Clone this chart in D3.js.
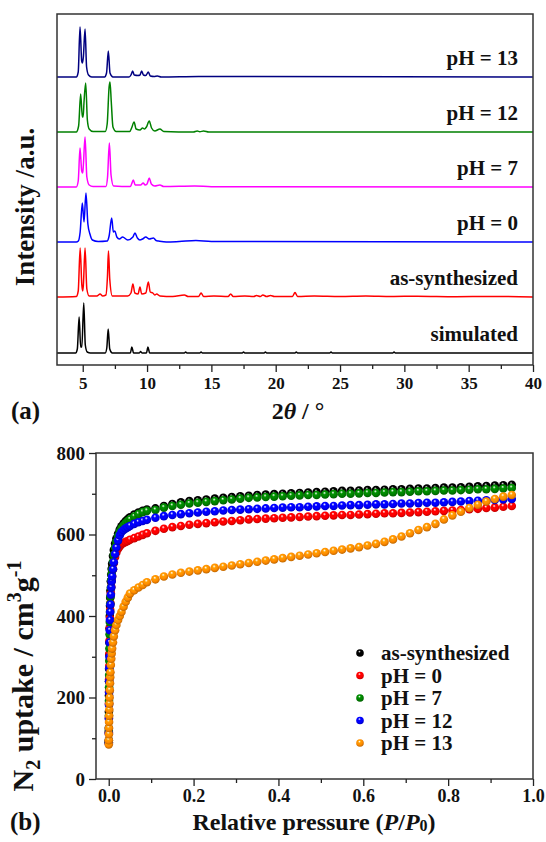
<!DOCTYPE html>
<html>
<head>
    <title>XRD and N2 isotherms</title>
    <script src="https://d3js.org/d3.v7.min.js"></script>
    <style>
        body { margin: 0; background: #fff; }
        text { font-family: "Liberation Serif", "Times New Roman", serif; font-weight: bold; }
    </style>
</head>
<body>
<script>
    var W = 546, H = 842;

    // ---- (a) PXRD patterns, [2theta, intensity a.u.] ----
    var simulatedXRD = [[3,0],[4.45,0],[4.58,4],[4.72,36],[4.84,6],[4.93,6],[5.08,50],[5.2,8],[5.35,1],[5.6,0],[6.75,0],[6.87,5],[6.98,24],[7.1,4],[7.3,0],
        [8.7,0],[8.82,6],[8.95,0],[9.4,0],[9.5,1.5],[9.6,0],[9.95,0],[10.07,6],[10.2,0],[12.9,0],[13.0,1],[13.1,0],[14.1,0],[14.2,1],[14.3,0],
        [17.4,0],[17.5,1],[17.6,0],[19.1,0],[19.2,1],[19.3,0],[21.5,0],[21.6,1],[21.7,0],[24.2,0],[24.3,1],[24.4,0],[29.1,0],[29.2,1],[29.3,0],[40,0]];
    var asSynXRD = [[3,0],[4.5,0.5],[4.65,6],[4.8,49],[4.93,12],[5.0,6],[5.05,12],[5.18,49],[5.32,8],[5.5,1],[6.1,1],[6.35,3],[6.55,1],[6.8,2],[6.92,20],[7.0,46],[7.1,18],[7.3,1],
        [8.5,1],[8.75,4],[8.9,13],[9.05,4],[9.3,3],[9.45,10],[9.58,3],[9.9,4],[10.1,15],[10.25,5],[10.45,4],[10.6,2],[10.75,3],[11.0,1],[12.0,0.5],[12.9,2],[13.2,0.5],
        [14.0,0.5],[14.2,4],[14.4,0.5],[15.2,1],[16.3,0.5],[16.5,3],[16.7,0.5],[17.6,1],[18.3,0.5],[18.5,1.5],[18.8,0.5],[19.0,2],[19.3,0.5],[19.6,1.5],[19.9,0.5],
        [21.3,0.5],[21.5,4.5],[21.7,0.5],[23,1],[25,0.5],[27,1],[29,0.5],[31,0.8],[34,0.3],[37,0.6],[40,0]];
    var pH0XRD = [[3,0],[4.5,0],[4.66,1],[4.8,10],[4.97,39],[5.1,20],[5.25,49],[5.4,18],[5.56,8],[5.75,2],[6.2,0.5],[6.9,1],[7.05,6],[7.25,24],[7.38,10],[7.5,11],[7.65,5],
        [7.85,3],[8.1,5],[8.5,2],[8.9,5],[9.06,9],[9.25,4],[9.45,2],[9.65,3],[9.9,5],[10.17,3],[10.5,4],[10.7,1.5],[10.9,1],[11.5,0],[12.5,0.5],[13.8,1.5],[15,0.5],[40,0]];
    var pH7XRD = [[3,0],[4.5,0],[4.65,6],[4.79,39],[4.92,16],[5.0,14],[5.05,22],[5.18,50],[5.32,10],[5.5,2],[5.8,0.5],[6.8,0.5],[6.93,10],[7.07,44],[7.2,12],[7.4,1],
        [8.7,0.5],[8.8,3],[8.93,7],[9.08,2],[9.5,2],[9.7,4],[9.85,2],[10.0,3],[10.17,9],[10.33,3],[10.6,1],[11.0,2],[11.3,0.5],[13.7,1],[15,0.3],[40,0]];
    var pH12XRD = [[3,0],[4.5,0],[4.68,6],[4.84,38],[4.97,15],[5.03,15],[5.1,30],[5.23,49],[5.36,12],[5.5,3],[5.8,0.5],[6.75,0.5],[6.9,8],[7.05,45],[7.12,50],[7.22,30],[7.35,5],[7.6,0.5],
        [8.65,0.5],[8.8,4],[8.99,10],[9.15,3],[9.45,2],[9.65,4],[9.8,3],[9.95,5],[10.17,11],[10.35,4],[10.6,1],[11.0,3],[11.3,0.5],[13.6,0],[13.9,1],[14.1,0.3],[14.4,1],[14.8,0],[40,0]];
    var pH13XRD = [[3,0],[4.5,0],[4.65,5],[4.79,50],[4.92,16],[4.98,14],[5.05,20],[5.18,48],[5.3,10],[5.45,2],[5.7,0],[6.7,0],[6.85,4],[6.99,26],[7.12,4],[7.35,0],
        [8.6,0],[8.75,2],[8.88,6],[9.0,2],[9.3,1.5],[9.45,2],[9.58,6],[9.72,2],[9.9,1.5],[10.1,5],[10.25,1],[10.55,0.5],[10.8,1],[11.1,0],[14,0.5],[40,0]];

    var xrdNames = ["simulated", "as-synthesized", "pH = 0", "pH = 7", "pH = 12", "pH = 13"];
    var xrdData = [simulatedXRD, asSynXRD, pH0XRD, pH7XRD, pH12XRD, pH13XRD];
    var xrdColors = ["#000000", "#ff0000", "#0000ff", "#ff00ff", "#008000", "#000080"];
    var xrdOffsets = [12, 68, 123, 178, 233, 288];
    var thetaTicks = [5, 10, 15, 20, 25, 30, 35, 40];
    var thetaMinor = [7.5, 12.5, 17.5, 22.5, 27.5, 32.5, 37.5];

    // ---- (b) N2 isotherms at 77 K ----
    var pressure = [0.0001, 0.0002, 0.0004, 0.0006, 0.0008, 0.001, 0.0013, 0.0016, 0.002, 0.0025, 0.003, 0.0035, 0.004, 0.005, 0.006, 0.007,
        0.008, 0.01, 0.012, 0.015, 0.018, 0.022, 0.026, 0.03, 0.035, 0.04, 0.045, 0.05, 0.06, 0.07, 0.08, 0.09,
        0.11, 0.13, 0.15, 0.17, 0.19, 0.21, 0.23, 0.25, 0.27, 0.29, 0.31, 0.33, 0.35, 0.37, 0.39, 0.41, 0.43, 0.45, 0.47, 0.49,
        0.51, 0.53, 0.55, 0.57, 0.59, 0.61, 0.63, 0.65, 0.67, 0.69, 0.71, 0.73, 0.75, 0.77, 0.79, 0.81, 0.83, 0.85, 0.87, 0.89, 0.91, 0.93, 0.95];
    var asSynUptake = [95, 125, 165, 205, 240, 270, 305, 335, 370, 400, 425, 445, 462, 485, 502, 516, 528, 547, 562, 578, 590, 602, 612, 620, 627, 633, 638, 642, 649, 654, 658, 661,
        664, 670, 675, 679, 682, 684, 686, 688, 690, 692, 694, 695, 697, 698, 699, 700, 701, 702, 703, 704, 705, 706, 707, 707, 708, 709, 709, 710, 711, 711,
        712, 713, 713, 714, 715, 715, 716, 717, 718, 719, 720, 721, 722];
    var pH0Uptake = [90, 115, 150, 185, 215, 245, 278, 308, 340, 370, 395, 415, 432, 455, 472, 487, 498, 515, 530, 545, 556, 565, 571, 576, 579, 582, 584, 587, 591, 595, 599, 603,
        609, 614, 618, 621, 624, 626, 628, 630, 632, 633, 635, 637, 638, 639, 640, 641, 642, 643, 644, 645, 646, 647, 648, 648, 649, 650, 651, 652, 652, 653,
        654, 655, 656, 657, 658, 659, 660, 662, 663, 665, 666, 668, 670];
    var pH7Uptake = [90, 118, 155, 192, 225, 255, 290, 320, 355, 385, 410, 430, 447, 470, 488, 502, 514, 533, 550, 568, 582, 596, 607, 615, 622, 628, 633, 637, 644, 650, 655, 658,
        660, 666, 670, 673, 676, 678, 680, 682, 684, 686, 688, 690, 691, 692, 693, 694, 695, 696, 697, 697, 698, 699, 700, 700, 701, 702, 702, 703, 704, 704,
        705, 706, 706, 707, 708, 708, 709, 710, 711, 711, 712, 713, 714];
    var pH12Uptake = [88, 112, 148, 182, 212, 240, 272, 300, 335, 365, 390, 410, 428, 452, 470, 485, 497, 515, 532, 552, 568, 585, 598, 606, 611, 615, 618, 621, 626, 630, 633, 636,
        641, 645, 648, 650, 652, 654, 656, 657, 659, 660, 661, 662, 663, 664, 665, 666, 667, 667, 668, 669, 670, 670, 671, 672, 672, 673, 674, 674, 675, 676,
        676, 677, 678, 678, 679, 680, 681, 682, 683, 684, 685, 686, 687];
    var pH13Uptake = [85, 95, 110, 125, 140, 155, 170, 185, 200, 218, 235, 250, 262, 280, 295, 308, 320, 335, 350, 365, 378, 390, 400, 410, 423, 435, 445, 455, 463, 470, 476, 483,
        490, 497, 502, 506, 509, 512, 515, 518, 521, 524, 527, 530, 533, 536, 539, 542, 545, 548, 551, 554, 557, 560, 563, 566, 569, 573, 577, 582, 588, 595,
        603, 611, 618, 626, 637, 647, 656, 665, 673, 681, 687, 693, 697];

    var isoNames = ["as-synthesized", "pH = 0", "pH = 7", "pH = 12", "pH = 13"];
    var isoData = [asSynUptake, pH0Uptake, pH7Uptake, pH12Uptake, pH13Uptake];
    var isoColors = ["#000000", "#ff0000", "#008000", "#0000ff", "#ff8a00"];
    var pTicks = [0, 0.2, 0.4, 0.6, 0.8, 1.0];
    var pMinor = [0.1, 0.3, 0.5, 0.7, 0.9];
    var uTicks = [0, 200, 400, 600, 800];
    var uMinor = [100, 300, 500, 700];

    var svg = d3.select("body").append("svg")
                .attr("width", W)
                .attr("height", H);

    // sphere gradients for markers
    var defs = svg.append("defs");
    isoColors.forEach(function(c, i) {
        var g = defs.append("radialGradient").attr("id", "ball" + i)
            .attr("cx", "45%").attr("cy", "40%").attr("r", "60%")
            .attr("fx", "42%").attr("fy", "30%");
        g.append("stop").attr("offset", "0%").attr("stop-color", i === 0 ? "#dddddd" : "#ffffff");
        g.append("stop").attr("offset", "30%").attr("stop-color", d3.color(c).brighter(i === 0 ? 2 : 0.4));
        g.append("stop").attr("offset", "65%").attr("stop-color", c);
        g.append("stop").attr("offset", "100%").attr("stop-color", d3.color(c).darker(0.8));
    });

    function styleAxis(g, size) {
        g.select(".domain").remove();
        g.selectAll("line").attr("stroke", "#222").attr("stroke-width", 1.3);
        g.selectAll("text").attr("font-size", size).attr("fill", "#111")
            .attr("font-family", "Liberation Serif, Times New Roman, serif").attr("font-weight", "bold");
    }

    // ================= panel (a) =================
    var xA = d3.scaleLinear().domain([3, 40]).range([57, 533]);
    var yA = d3.scaleLinear().domain([0, 351]).range([365, 14]);

    var line = d3.line()
        .x(function(d) { return xA(d[0]); })
        .curve(d3.curveMonotoneX);

    xrdData.forEach(function(data, i) {
        line.y(function(d) { return yA(d[1] + xrdOffsets[i]); });
        svg.append("path")
            .attr("d", line(data))
            .attr("fill", "none")
            .attr("stroke", xrdColors[i])
            .attr("stroke-width", 1.5);
        svg.append("text")
            .attr("x", 518)
            .attr("y", yA(xrdOffsets[i]) - 12)
            .attr("text-anchor", "end")
            .attr("font-size", 21)
            .attr("fill", "#111")
            .text(xrdNames[i]);
    });

    svg.append("rect")
        .attr("x", 57).attr("y", 14).attr("width", 533 - 57).attr("height", 365 - 14)
        .attr("fill", "none").attr("stroke", "#333").attr("stroke-width", 1.5);

    svg.append("g").attr("transform", "translate(0,365)")
        .call(d3.axisBottom(xA).tickValues(thetaTicks).tickSize(7).tickPadding(5).tickFormat(d3.format("d")))
        .call(styleAxis, 17);
    svg.append("g").attr("transform", "translate(0,365)")
        .call(d3.axisBottom(xA).tickValues(thetaMinor).tickSize(4).tickFormat(""))
        .call(styleAxis, 17);

    svg.append("text")
        .attr("transform", "translate(34,207) rotate(-90)")
        .attr("text-anchor", "middle")
        .attr("font-size", 27)
        .attr("fill", "#111")
        .text("Intensity /a.u.");

    var tA = svg.append("text").attr("x", 298).attr("y", 419)
        .attr("text-anchor", "middle").attr("font-size", 24).attr("fill", "#111");
    tA.append("tspan").text("2");
    tA.append("tspan").attr("font-style", "italic").text("θ");
    tA.append("tspan").text(" / °");

    svg.append("text").attr("x", 11).attr("y", 419)
        .attr("font-size", 25).attr("fill", "#111").text("(a)");

    // ================= panel (b) =================
    var xB = d3.scaleLinear().domain([-0.03, 1.0]).range([96, 533]);
    var yB = d3.scaleLinear().domain([0, 800]).range([779, 453]);

    isoData.forEach(function(vals, i) {
        svg.append("g").selectAll("circle")
            .data(vals)
            .enter()
            .append("circle")
            .attr("cx", function(d, j) { return xB(pressure[j]); })
            .attr("cy", function(d) { return yB(d); })
            .attr("r", 4.3)
            .attr("fill", "url(#ball" + i + ")");
    });

    svg.append("rect")
        .attr("x", 96).attr("y", 453).attr("width", 533 - 96).attr("height", 779 - 453)
        .attr("fill", "none").attr("stroke", "#333").attr("stroke-width", 1.5);

    svg.append("g").attr("transform", "translate(0,779)")
        .call(d3.axisBottom(xB).tickValues(pTicks).tickSize(7).tickPadding(3).tickFormat(d3.format(".1f")))
        .call(styleAxis, 18);
    svg.append("g").attr("transform", "translate(0,779)")
        .call(d3.axisBottom(xB).tickValues(pMinor).tickSize(4).tickFormat(""))
        .call(styleAxis, 18);
    svg.append("g").attr("transform", "translate(96,0)")
        .call(d3.axisLeft(yB).tickValues(uTicks).tickSize(7).tickPadding(4).tickFormat(d3.format("d")))
        .call(styleAxis, 19);
    svg.append("g").attr("transform", "translate(96,0)")
        .call(d3.axisLeft(yB).tickValues(uMinor).tickSize(4).tickFormat(""))
        .call(styleAxis, 19);

    // legend
    isoNames.forEach(function(name, i) {
        var cy = 653 + i * 22.5;
        svg.append("circle").attr("cx", 360).attr("cy", cy).attr("r", 3.8)
            .attr("fill", "url(#ball" + i + ")");
        svg.append("text").attr("x", 381).attr("y", cy + 7)
            .attr("font-size", 21).attr("fill", "#111").text(name);
    });

    var tY = svg.append("text")
        .attr("transform", "translate(33,676) rotate(-90)")
        .attr("text-anchor", "middle")
        .attr("font-size", 30)
        .attr("fill", "#111");
    tY.append("tspan").text("N");
    tY.append("tspan").attr("font-size", 20).attr("dy", 7).text("2");
    tY.append("tspan").attr("dy", -7).text(" uptake / cm");
    tY.append("tspan").attr("font-size", 20).attr("dy", -12).text("3");
    tY.append("tspan").attr("dy", 12).text("g");
    tY.append("tspan").attr("font-size", 20).attr("dy", -12).text("-1");

    var tX = svg.append("text").attr("x", 314).attr("y", 830)
        .attr("text-anchor", "middle").attr("font-size", 24).attr("fill", "#111");
    tX.append("tspan").text("Relative pressure (");
    tX.append("tspan").attr("font-style", "italic").text("P");
    tX.append("tspan").text("/");
    tX.append("tspan").attr("font-style", "italic").text("P");
    tX.append("tspan").attr("font-size", 16).attr("dy", 1).text("0");
    tX.append("tspan").attr("dy", -1).text(")");

    svg.append("text").attr("x", 10).attr("y", 830)
        .attr("font-size", 25).attr("fill", "#111").text("(b)");
</script>
</body>
</html>
